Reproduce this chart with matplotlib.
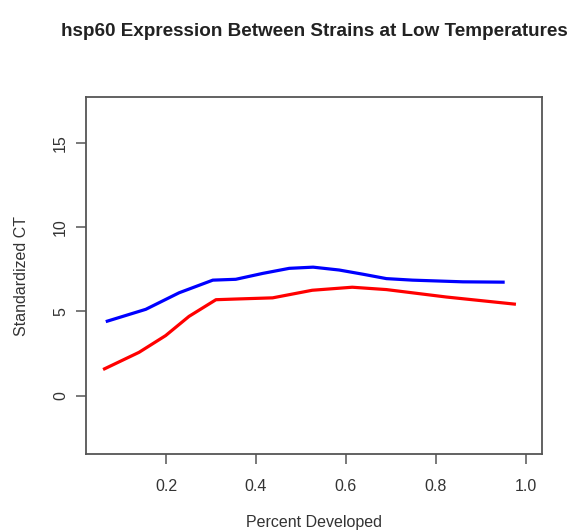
import matplotlib
matplotlib.use("Agg")
import matplotlib.pyplot as plt

plt.rcParams['font.family'] = ['Liberation Sans', 'DejaVu Sans']

# smoothed expression curves
blue_x = [0.066, 0.155, 0.229, 0.304, 0.355, 0.415, 0.474, 0.527, 0.585,
          0.638, 0.690, 0.748, 0.860, 0.953]
blue_y = [4.39, 5.12, 6.10, 6.85, 6.90, 7.25, 7.55, 7.62, 7.45,
          7.20, 6.94, 6.85, 6.75, 6.73]

red_x = [0.060, 0.140, 0.199, 0.251, 0.311, 0.355, 0.437, 0.525, 0.614,
         0.690, 0.823, 0.978]
red_y = [1.55, 2.57, 3.56, 4.70, 5.69, 5.73, 5.80, 6.25, 6.43,
         6.29, 5.85, 5.42]

x_ticks = [0.2, 0.4, 0.6, 0.8, 1.0]
y_ticks = [0, 5, 10, 15]

fig = plt.figure(figsize=(5.74, 5.31), dpi=100)
ax = fig.add_axes([0.1498, 0.145, 0.7945, 0.672])

ax.plot(blue_x, blue_y, color="#0000ff", lw=2.3, solid_capstyle="butt")
ax.plot(red_x, red_y, color="#ff0000", lw=2.3, solid_capstyle="butt")

ax.set_xlim(0.022, 1.036)
ax.set_ylim(-3.46, 17.7)
ax.set_xticks(x_ticks)
ax.set_xticklabels(["0.2", "0.4", "0.6", "0.8", "1.0"])
ax.set_yticks(y_ticks)
ax.set_yticklabels([str(v) for v in y_ticks], rotation=90, va="center")

for s in ax.spines.values():
    s.set_color("#555555")
    s.set_linewidth(1.3)
ax.tick_params(direction="out", length=7, width=1.1, color="#555555",
               labelsize=11.5, labelcolor="#333333")
ax.tick_params(axis="x", pad=11)
ax.tick_params(axis="y", pad=6)

ax.set_xlabel("Percent Developed", fontsize=11.5, color="#333333", labelpad=15)
ax.set_ylabel("Standardized CT", fontsize=11.5, color="#333333", labelpad=17.5)
ax.set_title("hsp60 Expression Between Strains at Low Temperatures",
             fontsize=13.6, fontweight="bold", color="#222222", pad=44)

fig.savefig("out.png", dpi=100)
